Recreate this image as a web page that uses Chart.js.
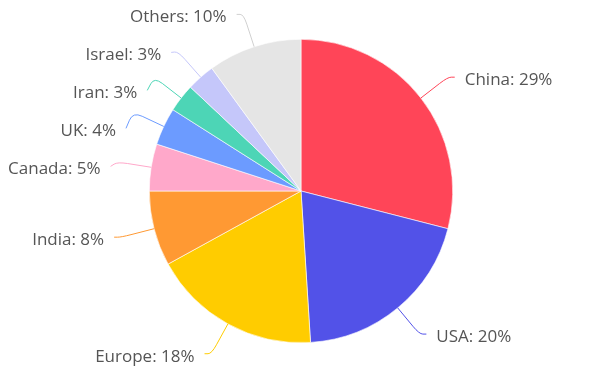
<!DOCTYPE html>
<html>
<head>
<meta charset="utf-8">
<script src="https://cdn.jsdelivr.net/npm/chart.js@4.4.1/dist/chart.umd.min.js"></script>
<style>
  html, body { margin: 0; padding: 0; background: #ffffff; }
  #wrap { width: 600px; height: 372px; position: relative; }
</style>
</head>
<body>
<div id="wrap"><canvas id="c"></canvas></div>
<script>
const categories = ["China", "USA", "Europe", "India", "Canada", "UK", "Iran", "Israel", "Others"];
const shares = [29, 20, 18, 8, 5, 4, 3, 3, 10];
const sliceColors = ["#FF4558", "#5252E8", "#FFCC00", "#FF9933", "#FFA8CA", "#6C9BFF", "#4DD5B6", "#C5C7FA", "#E5E5E5"];
const lineColors = ["#FF4558", "#5252E8", "#FFCC00", "#FF9933", "#FFA8CA", "#6C9BFF", "#4DD5B6", "#C5C7FA", "#D0D0D0"];

const outsideLabels = {
  id: 'outsideLabels',
  afterDatasetsDraw(chart, args, opts) {
    const ctx = chart.ctx;
    const meta = chart.getDatasetMeta(0);
    const data = chart.data.datasets[0].data;
    const total = data.reduce((a, b) => a + b, 0);
    const items = meta.data.map((arc, i) => {
      const p = arc.getProps(['x', 'y', 'startAngle', 'endAngle', 'outerRadius'], true);
      const mid = (p.startAngle + p.endAngle) / 2;
      const dx = Math.cos(mid), dy = Math.sin(mid);
      const r = p.outerRadius;
      const start = { x: p.x + r * dx, y: p.y + r * dy };
      const bend = { x: p.x + (r + opts.bendOut) * dx, y: p.y + (r + opts.bendOut) * dy };
      const side = dx >= 0 ? 1 : -1;
      return { i, start, bend, side, ly: bend.y };
    });
    // simple overlap avoidance per side (top-down push)
    [1, -1].forEach(side => {
      const s = items.filter(it => it.side === side).sort((a, b) => a.ly - b.ly);
      for (let k = 1; k < s.length; k++) {
        if (s[k].ly - s[k - 1].ly < opts.minGap) s[k].ly = s[k - 1].ly + opts.minGap;
      }
    });
    ctx.save();
    ctx.font = opts.font;
    ctx.textBaseline = 'middle';
    items.forEach(it => {
      const end = { x: it.bend.x + it.side * opts.tail, y: it.ly };
      const p1 = { x: it.start.x + (it.bend.x - it.start.x) * 0.7, y: it.start.y + (it.bend.y - it.start.y) * 0.7 };
      const p2 = { x: it.bend.x + (end.x - it.bend.x) * 0.5, y: it.bend.y + (end.y - it.bend.y) * 0.5 };
      ctx.beginPath();
      ctx.strokeStyle = lineColors[it.i];
      ctx.lineWidth = 1;
      ctx.moveTo(it.start.x, it.start.y);
      ctx.lineTo(p1.x, p1.y);
      ctx.quadraticCurveTo(it.bend.x, it.bend.y, p2.x, p2.y);
      ctx.lineTo(end.x, end.y);
      ctx.stroke();
      ctx.fillStyle = opts.color;
      ctx.textAlign = it.side > 0 ? 'left' : 'right';
      const pct = Math.round(data[it.i] / total * 100);
      ctx.fillText(chart.data.labels[it.i] + ': ' + pct + '%', end.x + it.side * opts.gap, end.y + opts.textDy);
    });
    ctx.restore();
  }
};

new Chart(document.getElementById('c'), {
  type: 'pie',
  data: {
    labels: categories,
    datasets: [{
      data: shares,
      backgroundColor: sliceColors,
      borderColor: '#ffffff',
      borderWidth: 0.6
    }]
  },
  options: {
    responsive: true,
    maintainAspectRatio: false,
    animation: false,
    layout: { padding: { top: 39, bottom: 29, left: 2, right: 0 } },
    plugins: {
      legend: { display: false },
      tooltip: { enabled: false },
      outsideLabels: {
        bendOut: 34, tail: 7, gap: 10, textDy: 3, minGap: 38,
        font: '17px "Open Sans", "Noto Sans", sans-serif',
        color: '#555555'
      }
    }
  },
  plugins: [outsideLabels]
});
</script>
</body>
</html>
